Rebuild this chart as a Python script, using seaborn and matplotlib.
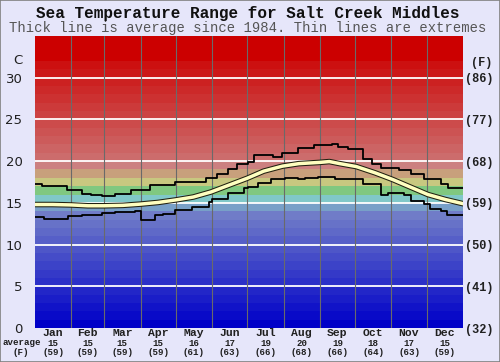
import matplotlib
matplotlib.use("Agg")
import matplotlib.pyplot as plt
import matplotlib.transforms as mtransforms
from matplotlib.colors import to_hex
import numpy as np
import seaborn as sns

# chart data
months = ['Jan', 'Feb', 'Mar', 'Apr', 'May', 'Jun',
          'Jul', 'Aug', 'Sep', 'Oct', 'Nov', 'Dec']
month_lengths = [31, 28, 31, 30, 31, 30, 31, 31, 30, 31, 30, 31]
month_avg_c = [15, 15, 15, 15, 16, 17, 19, 20, 19, 18, 17, 15]
month_avg_f = [59, 59, 59, 59, 61, 63, 66, 68, 66, 64, 63, 59]

celsius_ticks = [0, 5, 10, 15, 20, 25, 30]
fahrenheit_labels = [32, 41, 50, 59, 68, 77, 86]

# thin line: warmest recorded (step starts, day of year)
max_days = [0, 6, 27, 40, 48, 57, 68, 82, 98, 119, 146, 155, 165, 172, 182,
            187, 203, 211, 224, 238, 253, 258, 267, 280, 287, 295, 310, 321,
            332, 346, 352]
max_vals = [17.2, 17.0, 16.5, 16.1, 15.9, 15.8, 16.1, 16.6, 17.1, 17.5, 18.0,
            18.5, 19.1, 19.6, 19.9, 20.7, 20.5, 21.0, 21.6, 21.9, 22.1, 21.7,
            21.5, 20.3, 19.7, 19.2, 18.9, 18.5, 17.9, 17.3, 16.8]

# thin line: coldest recorded
min_days = [0, 8, 28, 40, 57, 68, 85, 90, 102, 109, 119, 134, 148, 151, 165,
            178, 182, 190, 201, 213, 224, 230, 241, 256, 273, 280, 295, 301,
            315, 321, 332, 337, 346, 351]
min_vals = [13.3, 13.1, 13.4, 13.6, 13.8, 13.9, 14.0, 13.0, 13.5, 13.7, 14.1,
            14.5, 15.1, 15.5, 16.2, 16.8, 16.9, 17.4, 17.9, 18.0, 17.8, 18.0,
            18.1, 17.9, 17.8, 17.3, 15.9, 16.2, 15.9, 15.2, 14.9, 14.3, 14.0,
            13.6]

# thick line: average
avg_days = [0, 15, 31, 45, 59, 75, 90, 105, 120, 135, 150, 165, 181, 195,
            211, 225, 243, 251, 260, 274, 290, 305, 320, 335, 350, 365]
avg_vals = [14.8, 14.8, 14.75, 14.65, 14.65, 14.7, 14.85, 15.05, 15.35, 15.7,
            16.3, 17.1, 17.95, 18.8, 19.4, 19.7, 19.85, 19.95, 19.7, 19.35,
            18.6, 17.8, 16.9, 16.0, 15.4, 14.9]


def band_colours():
    """one colour per 1C band from 0 up to 35"""
    cols = []
    # deep blue to lavender, 0..14
    for i in range(14):
        t = i / 13
        cols.append(to_hex(((0 + 0x70 * t) / 255, (0 + 0x7c * t) / 255, 0xc8 / 255)))
    cols += ['#78a0c8', '#80c8c8', '#80c880', '#c8c880', '#c8a07c', '#cc8080']
    # salmon to red, 20..32
    for i in range(12):
        t = i / 11
        v = (0x6c * (1 - t) + 0x10 * t) / 255
        cols.append(to_hex((0xcc / 255, v, v)))
    cols += ['#cc0000'] * 3
    return cols


sns.set_theme(style="white")
plt.rcParams['font.family'] = ['DejaVu Sans']
mono = ['Liberation Mono', 'DejaVu Sans Mono']
ink = '#202020'

fig = plt.figure(figsize=(5, 3.62), dpi=100, facecolor='#e6e6fa')
ax = fig.add_axes([0.07, 0.0939, 0.856, 0.8067])
fig.patches.append(plt.Rectangle((0, 0), 1, 1, transform=fig.transFigure,
                                 fill=False, edgecolor='#808080', lw=1.2))

for i, c in enumerate(band_colours()):
    ax.axhspan(i, i + 1, color=c, lw=0, zorder=0)

for t in celsius_ticks[1:]:
    ax.axhline(t, color='white', lw=1.3, zorder=1)

month_starts = np.cumsum([0] + month_lengths)
for d in month_starts[1:-1]:
    ax.axvline(d, color='#6a6a6a', lw=0.8, zorder=1)

# step lines need a closing point at the year's end
sns.lineplot(x=max_days + [365], y=max_vals + [max_vals[-1]], ax=ax,
             color='black', lw=1.3, drawstyle='steps-post', estimator=None,
             sort=False, zorder=3)
sns.lineplot(x=min_days + [365], y=min_vals + [min_vals[-1]], ax=ax,
             color='black', lw=1.3, drawstyle='steps-post', estimator=None,
             sort=False, zorder=3)
sns.lineplot(x=avg_days, y=avg_vals, ax=ax, color='#202010', lw=4.0,
             estimator=None, sort=False, zorder=4)
sns.lineplot(x=avg_days, y=avg_vals, ax=ax, color='#ffffc0', lw=2.5,
             estimator=None, sort=False, zorder=5)

ax.set_xlim(0, 365)
ax.set_ylim(0, 35)
ax.set_xlabel('')
ax.set_ylabel('')
for s in ax.spines.values():
    s.set_visible(False)

ax.set_xticks([])
ax.set_yticks(celsius_ticks)
ax.set_yticklabels([str(t) for t in celsius_ticks], fontsize=9.5, color=ink)
ax.tick_params(axis='y', length=0, pad=9)

ax2 = ax.twinx()
ax2.set_ylim(ax.get_ylim())
ax2.set_yticks(celsius_ticks)
ax2.set_yticklabels(['(%d)' % f for f in fahrenheit_labels], family=mono,
                    fontweight='bold', fontsize=8.6, color=ink)
ax2.tick_params(axis='y', length=0, pad=1.5)
for s in ax2.spines.values():
    s.set_visible(False)

# month names and monthly averages under the axis
centres = month_starts[:-1] + np.array(month_lengths) / 2
trans = mtransforms.blended_transform_factory(ax.transData, ax.transAxes)
for x, m, c, f in zip(centres, months, month_avg_c, month_avg_f):
    ax.text(x, -0.018, m, transform=trans, ha='center', va='center',
            family=mono, fontweight='bold', fontsize=8.2, color=ink)
    ax.text(x, -0.053, str(c), transform=trans, ha='center', va='center',
            family=mono, fontweight='bold', fontsize=6.6, color=ink)
    ax.text(x, -0.084, '(%d)' % f, transform=trans, ha='center',
            va='center', family=mono, fontweight='bold', fontsize=6.6,
            color=ink)

fig.text(0.044, 0.0525, 'average', ha='center', va='center', family=mono,
         fontweight='bold', fontsize=6.6, color=ink)
fig.text(0.041, 0.0262, '(F)', ha='center', va='center', family=mono,
         fontweight='bold', fontsize=6.6, color=ink)
fig.text(0.044, 0.832, 'C', ha='right', va='center', fontsize=9.5, color=ink)
fig.text(0.963, 0.827, '(F)', ha='center', va='center', family=mono,
         fontweight='bold', fontsize=8.6, color=ink)

fig.text(0.496, 0.963, 'Sea Temperature Range for Salt Creek Middles',
         ha='center', va='center', family=mono, fontweight='bold',
         fontsize=11.5, color='#101010')
fig.text(0.496, 0.922, 'Thick line is average since 1984. Thin lines are extremes',
         ha='center', va='center', family=mono, fontsize=10,
         color='#555555')

fig.savefig('out.png', dpi=100, facecolor=fig.get_facecolor())
